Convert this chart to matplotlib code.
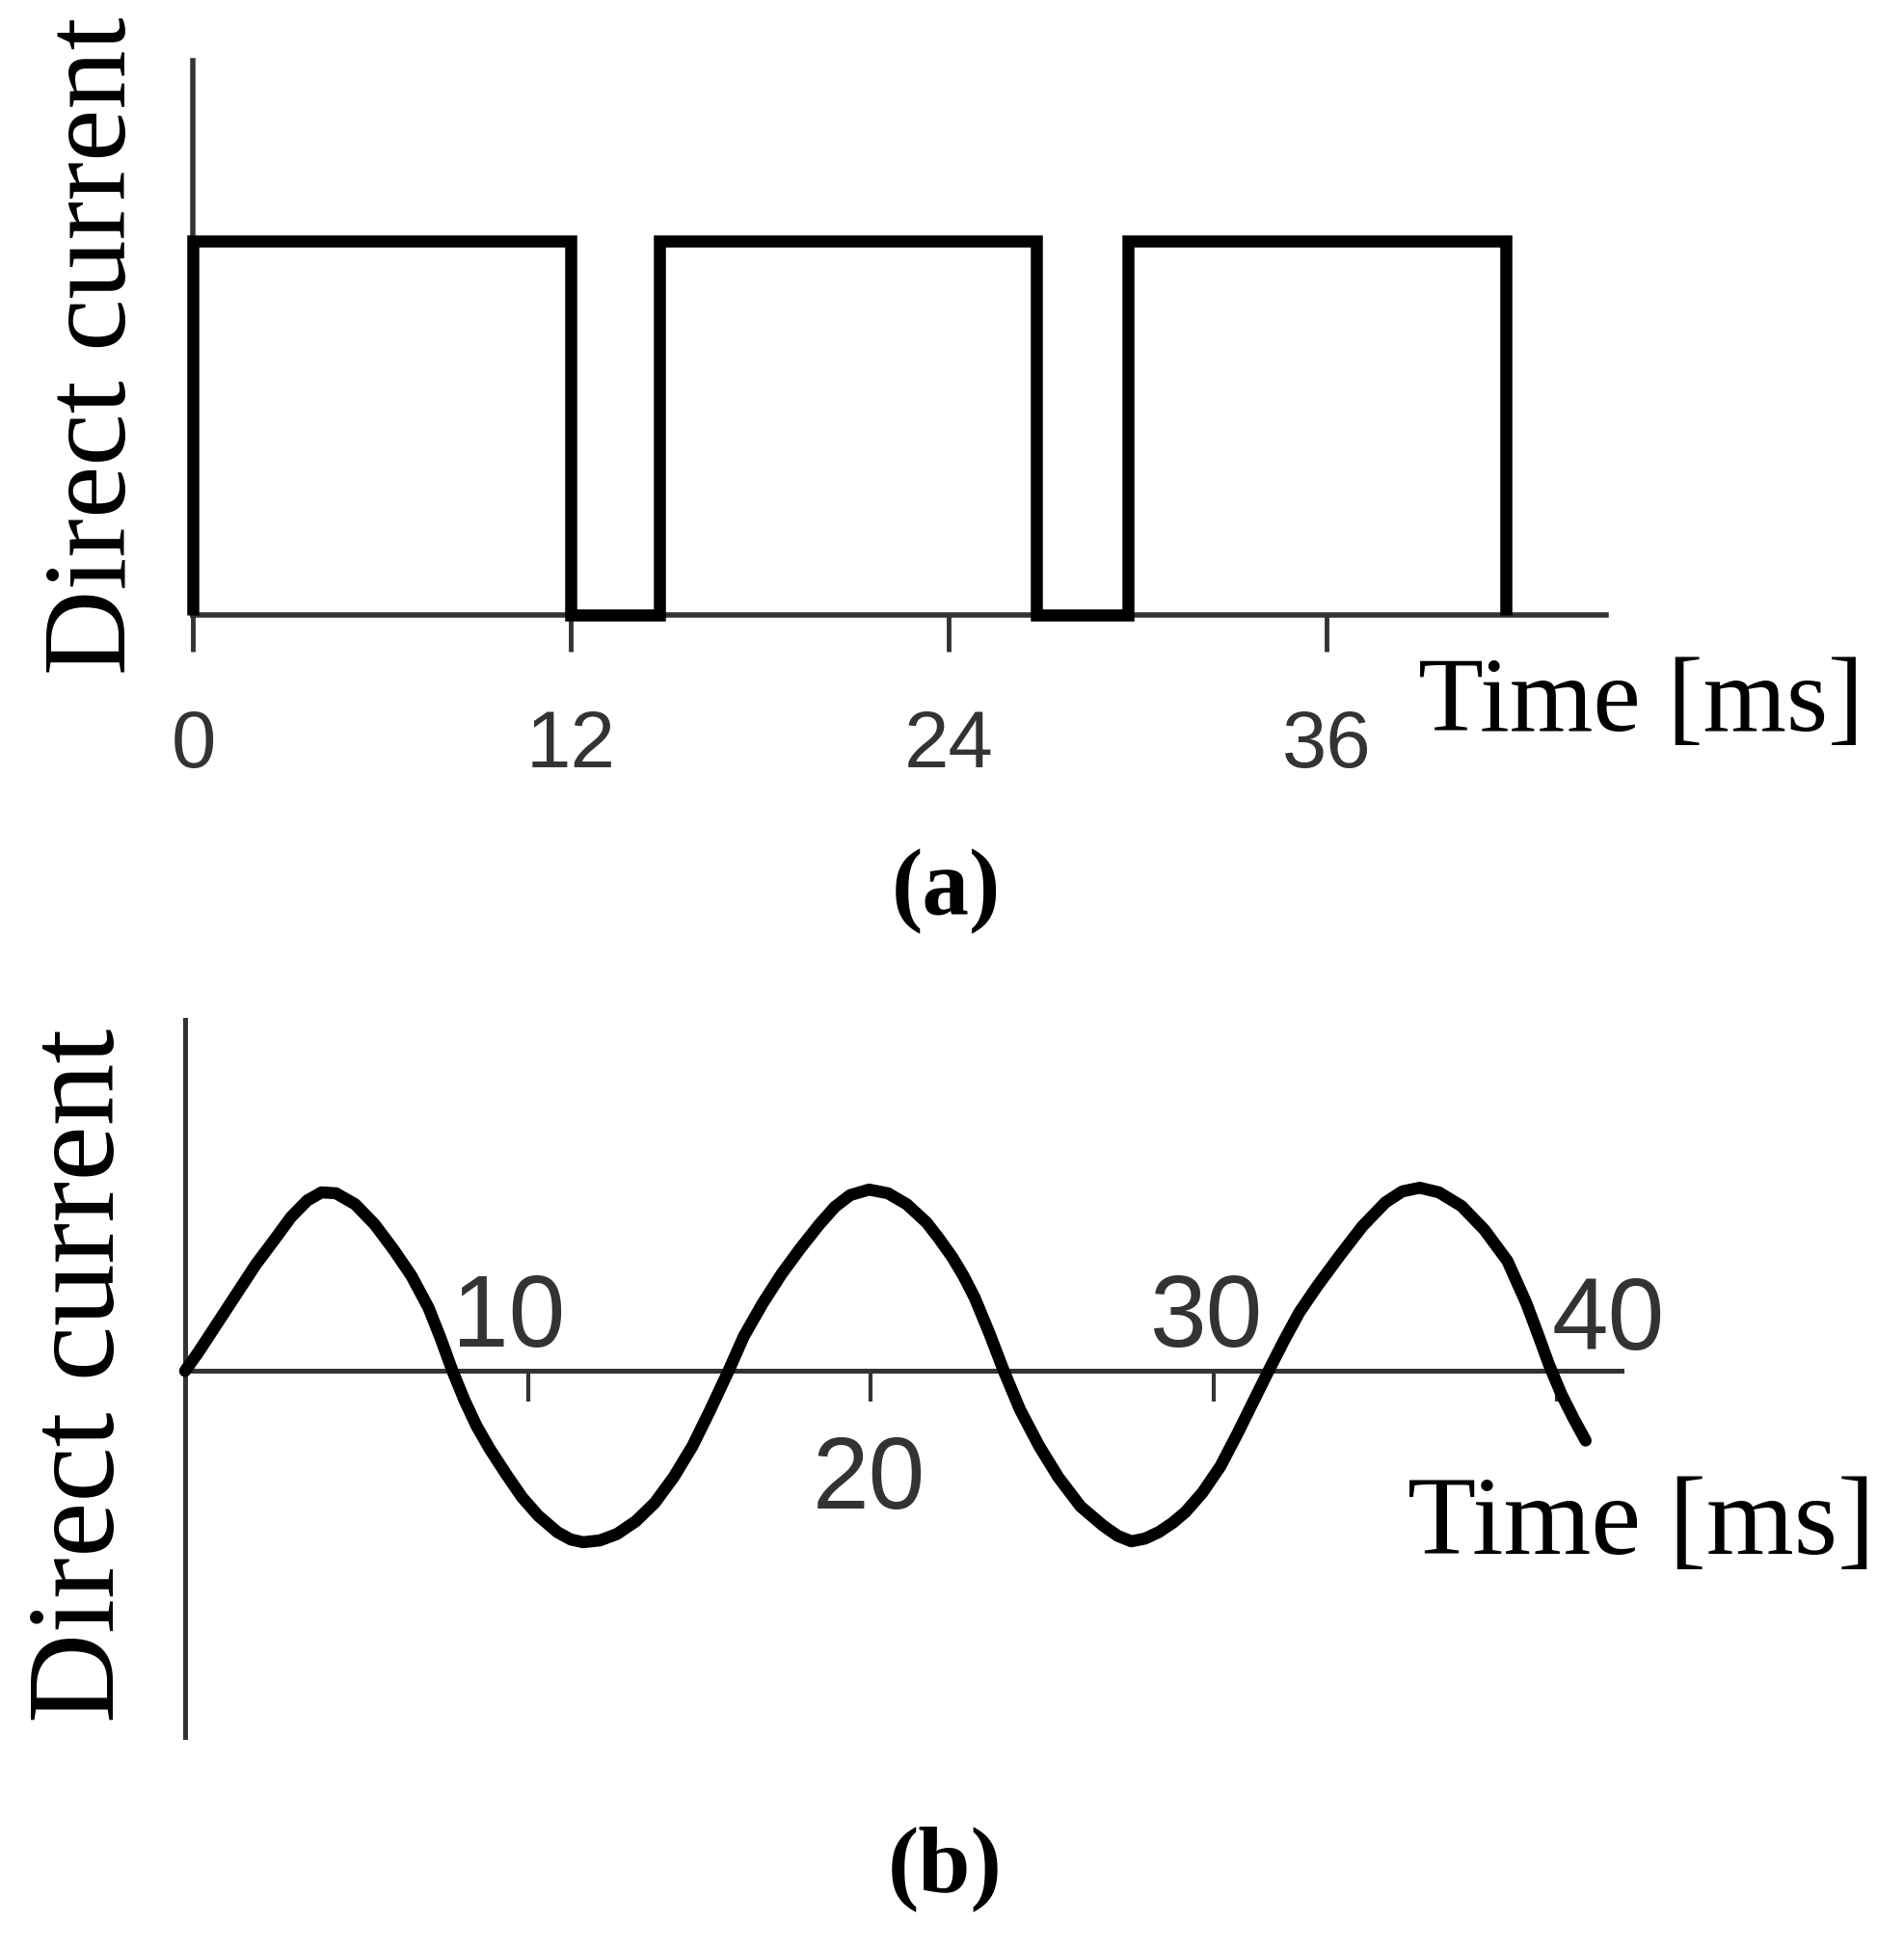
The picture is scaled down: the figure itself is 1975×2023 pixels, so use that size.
import matplotlib
matplotlib.use('Agg')
import matplotlib.pyplot as plt

# panel (a): square wave, switching times in ms and the level between them
square_edges = [0, 12, 14.8, 26.8, 29.7, 41.7]
square_levels = [1, 0, 1, 0, 1]
ticks_a = [0, 12, 24, 36]
tick_labels_a = ['0', '12', '24', '36']

# panel (b): sine-like current (time in ms, relative amplitude)
sine_t = [0, 0.38, 0.94, 1.50, 2.06, 2.62, 3.09, 3.56, 3.98, 4.40, 4.96, 5.53,
          6.09, 6.6, 7.1, 7.45, 7.8, 8.15, 8.5, 8.90, 9.37, 9.83, 10.30, 10.86,
          11.25, 11.61, 12.1, 12.6, 13.15, 13.7, 14.25, 14.8, 15.3, 15.85,
          16.3, 16.85, 17.4, 17.95, 18.5, 18.95, 19.4, 19.95, 20.5, 21.05, 21.63,
          22.0, 22.38, 22.7, 23.03, 23.45, 23.88, 24.35, 24.91, 25.47, 26.12, 26.78,
          27.2, 27.6, 28.0, 28.4, 28.8, 29.18, 29.67, 30.2, 30.7, 31.15, 31.6,
          32.05, 32.5, 33.01, 33.68, 34.34, 35.01, 35.5, 36.01, 36.57, 37.23,
          37.9, 38.57, 39.12, 39.46, 39.79, 40.15, 40.5, 40.85]
sine_v = [0, 0.10, 0.26, 0.42, 0.58, 0.72, 0.84, 0.93, 0.975, 0.97, 0.91, 0.80,
          0.66, 0.52, 0.345, 0.18, 0, -0.16, -0.30, -0.43, -0.565, -0.69, -0.79, -0.88,
          -0.92, -0.935, -0.925, -0.89, -0.82, -0.72, -0.58, -0.41, -0.22, 0,
          0.19, 0.37, 0.53, 0.67, 0.80, 0.895, 0.96, 0.99, 0.97, 0.91, 0.81,
          0.72, 0.62, 0.52, 0.40, 0.21, 0, -0.21, -0.41, -0.58, -0.74, -0.845,
          -0.90, -0.93, -0.915, -0.88, -0.83, -0.77, -0.665, -0.52, -0.34, -0.17, 0,
          0.165, 0.32, 0.46, 0.63, 0.79, 0.92, 0.98, 1.0, 0.975, 0.90,
          0.77, 0.60, 0.37, 0.20, 0.03, -0.13, -0.26, -0.38]
ticks_b = [10, 20, 30, 40]
tick_labels_b = ['10', '20', '30', '40']

W, H = 1975, 2024
AXIS_COLOR = '#333333'
SANS = ['Liberation Sans', 'DejaVu Sans']
NARROW = ['Liberation Sans Narrow', 'Liberation Sans', 'DejaVu Sans']
SERIF = ['Liberation Serif', 'DejaVu Serif']


def fxy(x, y):
    # pixel position (from top-left) -> figure fraction
    return x / W, 1 - y / H


fig = plt.figure(figsize=(W / 100, H / 100), dpi=100)
fig.patch.set_facecolor('white')

# ---- (a) ----
ax = fig.add_axes([0.1015, 0.6843, 0.7419, 0.2839])
ax.stairs(square_levels, square_edges, baseline=0, color='black', lw=9,
          clip_on=False, zorder=3)
ax.set_xlim(0, 44.88)
ax.set_ylim(0, 1.481)
for s in ['top', 'right']:
    ax.spines[s].set_visible(False)
for s in ['left', 'bottom']:
    ax.spines[s].set_color(AXIS_COLOR)
    ax.spines[s].set_linewidth(4)
ax.set_yticks([])
ax.set_xticks(ticks_a)
ax.set_xticklabels(tick_labels_a, family=SANS, fontsize=60, color=AXIS_COLOR)
ax.tick_params(axis='x', direction='out', length=27, width=3.5,
               color=AXIS_COLOR, pad=42)
ax.set_facecolor('none')

fig.text(*fxy(1471, 758), 'Time [ms]', family=SERIF, fontsize=80,
         ha='left', va='baseline')
fig.text(*fxy(130, 359), 'Direct current', family=SERIF, fontsize=88,
         rotation=90, rotation_mode='anchor', ha='center', va='baseline')
fig.text(*fxy(981, 948), '(a)', family=SERIF, fontsize=70, weight='bold',
         ha='center', va='baseline')

# ---- (b) ----
bx = fig.add_axes([0.0972, 0.1092, 0.7545, 0.3676])
bx.plot(sine_t, sine_v, color='black', lw=9, solid_joinstyle='round',
        solid_capstyle='round', clip_on=False, zorder=3)
bx.set_xlim(0, 41.9)
bx.set_ylim(-1.998, 1.917)
for s in ['top', 'right']:
    bx.spines[s].set_visible(False)
bx.spines['bottom'].set_position(('data', 0))
for s in ['left', 'bottom']:
    bx.spines[s].set_color(AXIS_COLOR)
    bx.spines[s].set_linewidth(3.6)
bx.set_yticks([])
bx.set_xticks(ticks_b)
bx.set_xticklabels([''] * len(ticks_b))
bx.tick_params(axis='x', direction='out', length=23, width=3,
               color=AXIS_COLOR)
bx.set_facecolor('none')

# tick labels sit at odd places in the original drawing
label_dx = [-0.55, -0.04, -0.2, 1.5]
label_y = [0.138, -0.746, 0.138, 0.12]
for t, lab, dx, ly in zip(ticks_b, tick_labels_b, label_dx, label_y):
    bx.text(t + dx, ly, lab, family=NARROW, fontsize=76, color=AXIS_COLOR,
            ha='center', va='baseline')

fig.text(*fxy(1460, 1612), 'Time [ms]', family=SERIF, fontsize=84,
         ha='left', va='baseline')
fig.text(*fxy(118, 1427), 'Direct current', family=SERIF, fontsize=93,
         rotation=90, rotation_mode='anchor', ha='center', va='baseline')
fig.text(*fxy(980, 1962), '(b)', family=SERIF, fontsize=70, weight='bold',
         ha='center', va='baseline')

fig.savefig('out.png', dpi=100, facecolor='white')
